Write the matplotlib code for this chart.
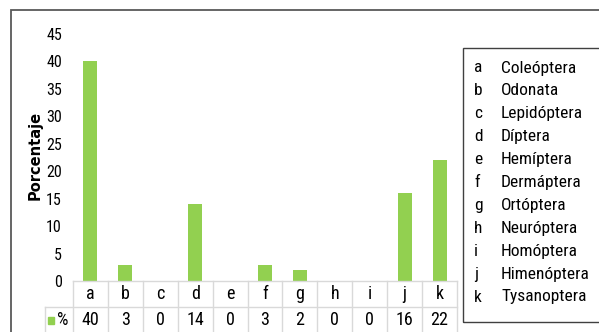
import matplotlib.pyplot as plt
import matplotlib.transforms as mtransforms
from matplotlib import font_manager as fm
from matplotlib.patches import Rectangle
from matplotlib.lines import Line2D

# orders found, with the share of each (%)
codigos = ['a', 'b', 'c', 'd', 'e', 'f', 'g', 'h', 'i', 'j', 'k']
porcentajes = [40, 3, 0, 14, 0, 3, 2, 0, 0, 16, 22]
ordenes = ['Coleóptera', 'Odonata', 'Lepidóptera', 'Díptera', 'Hemíptera',
           'Dermáptera', 'Ortóptera', 'Neuróptera', 'Homóptera',
           'Himenóptera', 'Tysanoptera']

VERDE = '#92D050'
GRIS = '#D9D9D9'


def fuente_estrecha():
    """Narrow sans if one is installed, else plain Liberation Sans (smaller)."""
    nombres = {f.name for f in fm.fontManager.ttflist}
    for n in ['Liberation Sans Narrow', 'Arial Narrow', 'Roboto Condensed']:
        if n in nombres:
            return dict(family=[n, 'DejaVu Sans']), 1.0
    for f in fm.fontManager.ttflist:
        if f.name in ('Liberation Sans', 'Roboto', 'Noto Sans', 'DejaVu Sans') \
                and f.stretch in ('condensed', 'semi-condensed') and f.weight in (400, 'normal'):
            return dict(family=[f.name], fontstretch=f.stretch), 0.9
    return dict(family=['Liberation Sans', 'DejaVu Sans']), 0.86


ESTRECHA, ESCALA = fuente_estrecha()

W, H = 599, 332
fig = plt.figure(figsize=(W / 100, H / 100), dpi=100)


def fx(x):
    return x / W


def fy(y):
    # pixel row measured from the top
    return 1 - y / H


# outer frame (runs off the right and bottom edges)
fig.patches.append(Rectangle((fx(11), fy(345)), fx(620) - fx(11), fy(10) - fy(345),
                             transform=fig.transFigure, fill=False,
                             edgecolor='#595959', linewidth=1.3))

ax = fig.add_axes([fx(73), fy(281), fx(457) - fx(73), fy(34) - fy(281)])
x = list(range(len(codigos)))
ax.bar(x, porcentajes, width=0.4, color=VERDE)
ax.set_xlim(-0.5, len(codigos) - 0.5)
ax.set_ylim(0, 45)
ax.set_yticks(range(0, 50, 5))
ax.set_yticklabels([str(v) for v in range(0, 50, 5)], fontsize=11.5 * ESCALA, **ESTRECHA)
ax.tick_params(axis='y', length=0, pad=8)
ax.set_xticks([])
for s in ax.spines.values():
    s.set_visible(False)
ax.set_ylabel('Porcentaje', fontsize=10.5, fontweight='bold', family=['DejaVu Sans'])
# ylabel is anchored at its right edge once rotated
ax.yaxis.set_label_coords(-(73 - 43) / (457 - 73), 1 - (155 - 34) / (281 - 34))

# data table under the bars
trans = mtransforms.blended_transform_factory(ax.transData, fig.transFigure)
for i in range(len(codigos) + 1):
    ax.add_line(Line2D([i - 0.5, i - 0.5], [fy(281), fy(340)], transform=trans,
                       color=GRIS, linewidth=1, clip_on=False))
ax.add_line(Line2D([-0.5, len(codigos) - 0.5], [fy(281), fy(281)], transform=trans,
                   color=GRIS, linewidth=1, clip_on=False))
fig.lines.append(Line2D([fx(45), fx(457)], [fy(307), fy(307)], transform=fig.transFigure,
                        color=GRIS, linewidth=1))
fig.lines.append(Line2D([fx(45), fx(45)], [fy(307), fy(340)], transform=fig.transFigure,
                        color=GRIS, linewidth=1))
for i, (c, p) in enumerate(zip(codigos, porcentajes)):
    ax.text(i, fy(294), c, transform=trans, ha='center', va='center',
            fontsize=13 * ESCALA, **ESTRECHA)
    ax.text(i, fy(320), str(p), transform=trans, ha='center', va='center',
            fontsize=13 * ESCALA, **ESTRECHA)
fig.patches.append(Rectangle((fx(48), fy(324)), fx(6), fy(0) - fy(7),
                             transform=fig.transFigure, color=VERDE))
fig.text(fx(57), fy(320), '%', ha='left', va='center', fontsize=13 * ESCALA, **ESTRECHA)

# key box with the order names
fig.patches.append(Rectangle((fx(463), fy(322)), fx(620) - fx(463), fy(48) - fy(322),
                             transform=fig.transFigure, fill=False,
                             edgecolor='#404040', linewidth=1))
for k, (c, nombre) in enumerate(zip(codigos, ordenes)):
    yy = 68 + k * 22.9
    fig.text(fx(474), fy(yy), c, ha='left', va='center', fontsize=12.5 * ESCALA, **ESTRECHA)
    fig.text(fx(501), fy(yy), nombre, ha='left', va='center', fontsize=12.5 * ESCALA, **ESTRECHA)

fig.savefig('out.png', dpi=100)
